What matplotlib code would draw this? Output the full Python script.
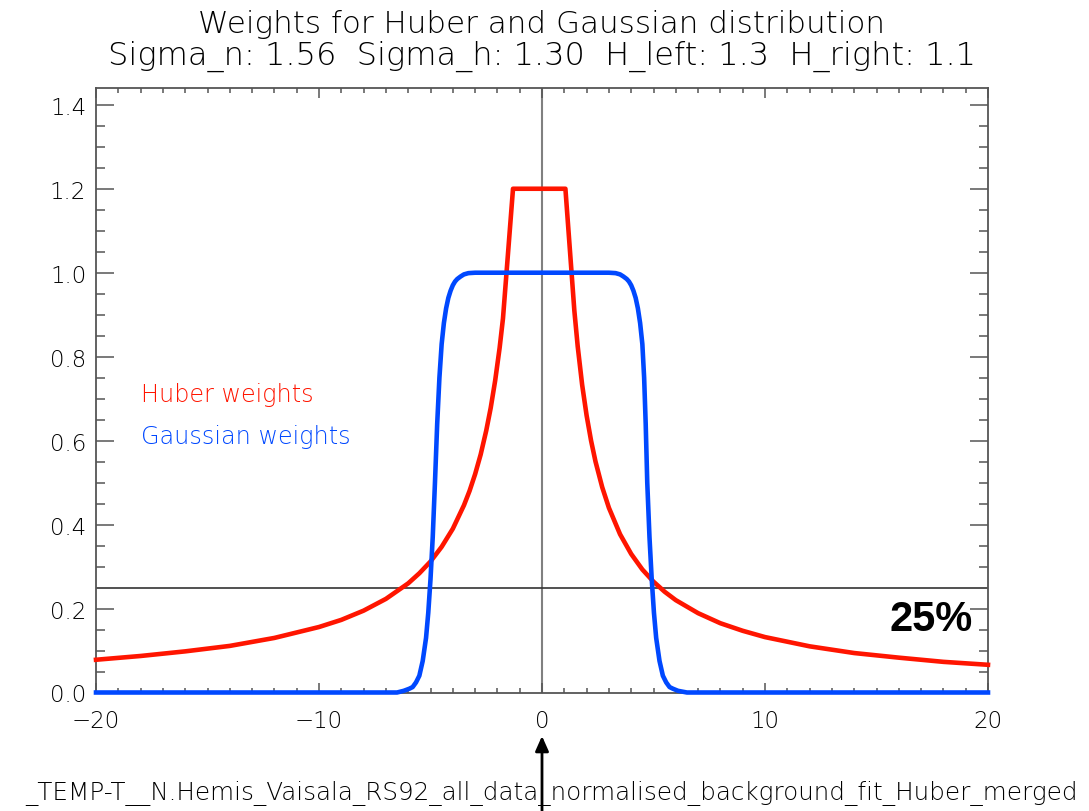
import numpy as np
import matplotlib
matplotlib.use('Agg')
import matplotlib.pyplot as plt
from matplotlib.ticker import MultipleLocator, FormatStrFormatter

# values
huber_x = [-20, -18, -16, -14, -12, -10, -9, -8, -7, -6, -5.5, -5, -4.5, -4, -3.5,
           -3.25, -3, -2.75, -2.5, -2.3, -2.1, -1.9, -1.75, -1.3,
           1.05, 1.45, 1.6, 1.8, 2.0, 2.2, 2.4, 2.7, 3, 3.5, 4, 4.5, 5, 5.5, 6, 7,
           8, 9, 10, 12, 14, 16, 18, 20]
huber_y = [0.078, 0.087, 0.098, 0.111, 0.130, 0.156, 0.173, 0.195, 0.223, 0.260,
           0.284, 0.312, 0.347, 0.390, 0.446, 0.480, 0.520, 0.567, 0.624, 0.678,
           0.743, 0.821, 0.891, 1.200,
           1.200, 0.910, 0.825, 0.733, 0.660, 0.600, 0.550, 0.489, 0.440, 0.377,
           0.330, 0.293, 0.264, 0.240, 0.220, 0.189, 0.165, 0.147, 0.132, 0.110,
           0.094, 0.083, 0.073, 0.066]

gauss_x = [-20, -6.5, -6.2, -5.95, -5.8, -5.65, -5.5, -5.35, -5.2, -5.1, -5.0, -4.9,
           -4.8, -4.7, -4.6, -4.5, -4.4, -4.3, -4.2, -4.1, -4.0, -3.9, -3.8, -3.65,
           -3.5, -3.3, -3.0,
           3.0, 3.3, 3.5, 3.65, 3.8, 3.9, 4.0, 4.1, 4.2, 4.3, 4.4, 4.5, 4.58,
           4.65, 4.72, 4.82, 4.92, 5.02, 5.12, 5.27, 5.42, 5.57, 5.72, 5.87, 6.1,
           6.5, 20]
gauss_y = [0.0, 0.0, 0.004, 0.009, 0.013, 0.024, 0.040, 0.075, 0.13, 0.19, 0.27,
           0.37, 0.50, 0.64, 0.75, 0.83, 0.88, 0.915, 0.94, 0.957, 0.97, 0.979,
           0.985, 0.991, 0.996, 0.999, 1.0,
           1.0, 0.999, 0.996, 0.991, 0.985, 0.979, 0.97, 0.957, 0.94, 0.915, 0.88,
           0.83, 0.75, 0.64, 0.50, 0.37, 0.27, 0.19, 0.13, 0.075, 0.040, 0.024,
           0.013, 0.009, 0.004, 0.0, 0.0]

title1 = 'Weights for Huber and Gaussian distribution'
title2 = 'Sigma_n: 1.56  Sigma_h: 1.30  H_left: 1.3  H_right: 1.1'
footer = '_TEMP-T__N.Hemis_Vaisala_RS92_all_data_normalised_background_fit_Huber_merged'
threshold = 0.25

red = '#ff1500'
blue = '#0048ff'
axcol = '#555555'

plt.rcParams['font.family'] = ['DejaVu Sans']

W, H = 1089, 812
fig = plt.figure(figsize=(W / 100, H / 100), dpi=100)
ax = fig.add_axes([96 / W, 1 - 693.5 / H, (988 - 96) / W, (693.5 - 89) / H])

ax.set_xlim(-20, 20)
ax.set_ylim(0, 1.44)

# reference lines
ax.axvline(0, color='#808080', lw=1.5, zorder=1)
ax.axhline(threshold, color='#333333', lw=1.2, zorder=1)

ax.plot(huber_x, huber_y, color=red, lw=3.3, clip_on=False, zorder=3)
ax.plot(gauss_x, gauss_y, color=blue, lw=3.3, clip_on=False, zorder=4)

ax.xaxis.set_major_locator(MultipleLocator(10))
ax.xaxis.set_minor_locator(MultipleLocator(1))
ax.yaxis.set_major_locator(MultipleLocator(0.2))
ax.yaxis.set_minor_locator(MultipleLocator(0.05))
ax.yaxis.set_major_formatter(FormatStrFormatter('%.1f'))

ax.tick_params(axis='both', which='both', direction='in', top=True, right=True,
               color=axcol, width=1.1, labelsize=16.5, labelcolor='black')
ax.tick_params(axis='x', which='major', length=7.5, pad=12)
ax.tick_params(axis='x', which='minor', length=3.5)
ax.tick_params(axis='y', which='major', length=13, pad=7)
ax.tick_params(axis='y', which='minor', length=6.5)
for lab in ax.get_xticklabels() + ax.get_yticklabels():
    lab.set_fontweight('light')
for s in ax.spines.values():
    s.set_color(axcol)
    s.set_linewidth(1.3)

# title lines
fig.text(542 / W, 1 - 33 / H, title1, ha='center', va='baseline',
         fontsize=22.3, fontweight='light')
fig.text(542 / W, 1 - 65 / H, title2, ha='center', va='baseline',
         fontsize=23, fontweight='light')

# inline labels
fig.text(141 / W, 1 - 402 / H, 'Huber weights', color=red, ha='left',
         va='baseline', fontsize=17.2, fontweight='light')
fig.text(141 / W, 1 - 444 / H, 'Gaussian weights', color=blue, ha='left',
         va='baseline', fontsize=17.2, fontweight='light')

fig.text(973 / W, 1 - 631 / H, '25%', ha='right', va='baseline', fontsize=30,
         fontweight='bold', family=['Liberation Sans', 'DejaVu Sans'])

fig.text(552 / W, 1 - 800 / H, footer, ha='center', va='baseline',
         fontsize=17.7, fontweight='light')

# arrow pointing at zero
ax.annotate('', xy=(0, 812 - 737), xytext=(0, 0),
            xycoords=('data', 'figure pixels'), textcoords=('data', 'figure pixels'),
            arrowprops=dict(arrowstyle='-|>,head_length=0.9,head_width=0.4',
                            color='black', lw=2, shrinkA=0, shrinkB=0),
            annotation_clip=False)

fig.savefig('out.png', dpi=100)
